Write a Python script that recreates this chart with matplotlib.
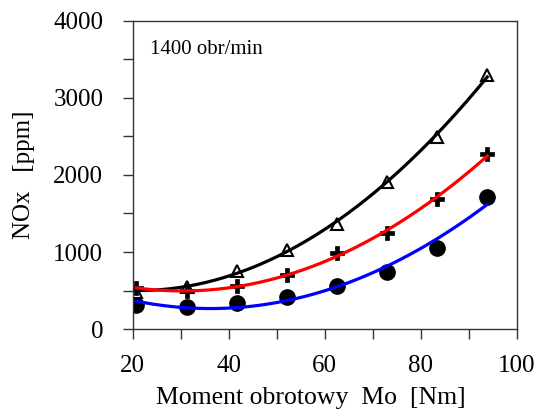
import numpy as np
import matplotlib
matplotlib.use("Agg")
import matplotlib.pyplot as plt
from matplotlib.ticker import MultipleLocator

plt.rcParams["font.family"] = ["Liberation Serif", "DejaVu Serif"]

# torque [Nm]
moment = [20.8, 31.3, 41.7, 52.1, 62.5, 72.9, 83.3, 93.8]
# NOx [ppm] for the three series
nox_tri = [485, 549, 757, 1026, 1364, 1913, 2497, 3299]
nox_plus = [528, 490, 560, 701, 983, 1243, 1684, 2273]
nox_circ = [312, 290, 334, 420, 558, 744, 1057, 1718]

fig = plt.figure(figsize=(5.38, 4.18), dpi=100)
ax = fig.add_axes([0.2463, 0.2129, 0.961 - 0.2463, 0.9498 - 0.2129])

xs = np.linspace(min(moment), max(moment), 200)
series = [
    (nox_tri, "black", dict(marker="^", markersize=9, markerfacecolor="white",
                            markeredgecolor="black", markeredgewidth=1.5)),
    (nox_plus, "red", dict(marker="P", markersize=10, markerfacecolor="black",
                           markeredgecolor="black", markeredgewidth=0.5)),
    (nox_circ, "blue", dict(marker="o", markersize=11, markerfacecolor="black",
                            markeredgecolor="black")),
]

# markers first, fitted trend lines drawn on top
for vals, col, mk in series:
    ax.plot(moment, vals, linestyle="none", zorder=2, **mk)
for vals, col, mk in series:
    coef = np.polyfit(moment, vals, 2)
    ax.plot(xs, np.polyval(coef, xs), color=col, linewidth=2.3, zorder=3)

ax.set_xlim(20, 100)
ax.set_ylim(0, 4000)
ax.xaxis.set_major_locator(MultipleLocator(20))
ax.xaxis.set_minor_locator(MultipleLocator(10))
ax.yaxis.set_major_locator(MultipleLocator(1000))
ax.yaxis.set_minor_locator(MultipleLocator(500))
ax.tick_params(axis="both", which="both", direction="out", length=7,
               width=1.0, color="#333333", top=False, right=False)
ax.tick_params(axis="x", which="major", labelsize=18, pad=12)
ax.tick_params(axis="y", which="major", labelsize=18, pad=14)
for sp in ax.spines.values():
    sp.set_linewidth(1.0)
    sp.set_color("#333333")

ax.set_xlabel("Moment obrotowy  Mo  [Nm]", fontsize=18.5, labelpad=7, x=0.464)
ax.set_ylabel("NOx   [ppm]", fontsize=18, labelpad=13)
ax.text(0.045, 0.906, "1400 obr/min", transform=ax.transAxes,
        fontsize=15, va="center", ha="left")

fig.savefig("out.png", dpi=100)
